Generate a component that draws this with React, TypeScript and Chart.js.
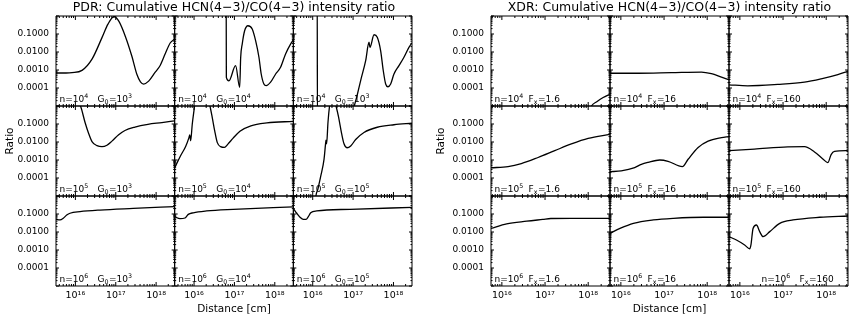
import React, { useEffect, useRef } from "react";
import { Chart, registerables } from "chart.js";
Chart.register(...registerables);

const FONT = '"DejaVu Sans", sans-serif';

const PDR_X_MIN = 3.31e15;
const PDR_X_MAX = 2.88e18;
const XDR_X_MIN = 5.6e15;
const XDR_X_MAX = 3.2e18;
const Y_MIN = 1e-5;
const Y_MAX = 1;
const yTickValues = [1e-4, 1e-3, 1e-2, 1e-1];
const yTickLabels = ["0.0001", "0.0010", "0.0100", "0.1000"];
const xTickValues = [1e16, 1e17, 1e18];
const xTickLabels = ["10¹⁶", "10¹⁷", "10¹⁸"];

const pdrTitle = "PDR: Cumulative HCN(4−3)/CO(4−3) intensity ratio";
const xdrTitle = "XDR: Cumulative HCN(4−3)/CO(4−3) intensity ratio";
const yTitle = "Ratio";
const xTitle = "Distance [cm]";

const densityExp = ["4", "5", "6"];
const pdrG0Exp = [["3", "4", "3"], ["3", "4", "5"], ["3", "4", "5"]];
const xdrFx = ["1.6", "16", "160"];

// ---------- PDR panels (row = density, col = G0) ----------
const p11x = [3.31e15, 5.86e15, 8.24e15, 1.46e16, 2.58e16, 4.56e16, 6.41e16, 9.04e16, 1.2e17, 1.74e17, 2.52e17, 3.35e17, 4.09e17, 4.91e17, 6.53e17, 9.51e17, 1.26e18, 1.68e18, 2.23e18, 2.87e18];
const p11y = [6.8e-4, 6.8e-4, 7.1e-4, 9.5e-4, 4.0e-3, 0.063, 0.355, 0.93, 0.5, 0.071, 5.6e-3, 5.6e-4, 2.2e-4, 1.66e-4, 2.4e-4, 7.6e-4, 1.78e-3, 7.9e-3, 0.0316, 0.052];

const p12x = [3.31e15, 6.24e16, 6.31e16, 7.31e16, 1.07e17, 1.35e17, 1.43e17, 1.56e17, 1.79e17, 2.16e17, 2.76e17, 3.35e17, 4.05e17, 4.61e17, 5.37e17, 6.12e17, 7.87e17, 1.05e18, 1.39e18, 1.85e18, 2.46e18, 2.86e18];
const p12y = [50, 50, 3.9e-4, 2.5e-4, 1.74e-3, 1.1e-4, 5.1e-3, 0.0275, 0.151, 0.288, 0.19, 0.0427, 5.1e-3, 6.0e-4, 1.66e-4, 1.35e-4, 2.1e-4, 6.0e-4, 1.41e-3, 7.8e-3, 0.0275, 0.045];

const p13x = [3.31e15, 1.29e16, 1.31e16, 9.12e16, 1.05e17, 1.25e17, 1.54e17, 2.05e17, 2.48e17, 2.62e17, 3.3e17, 3.97e17, 4.82e17, 5.6e17, 6.41e17, 7.31e17, 8.53e17, 1.03e18, 1.37e18, 1.82e18, 2.42e18, 2.87e18];
const p13y = [50, 50, 1e-6, 1e-6, 7.9e-6, 3.6e-5, 2.6e-4, 3.3e-3, 0.0347, 0.0182, 0.091, 0.066, 0.0117, 9.1e-4, 1.66e-4, 1.17e-4, 1.66e-4, 6.0e-4, 1.74e-3, 5.1e-3, 0.0182, 0.0316];

const p21x = [3.31e15, 1.16e16, 1.34e16, 1.73e16, 2.11e16, 2.58e16, 3.43e16, 4.56e16, 6.05e16, 8.05e16, 1.18e17, 1.69e17, 2.99e17, 6.27e17, 1.39e18, 2.87e18];
const p21y = [30, 1.58, 1.0, 0.126, 0.0316, 0.0105, 6.3e-3, 5.5e-3, 6.6e-3, 0.0112, 0.0251, 0.0437, 0.0676, 0.0955, 0.12, 0.151];

const p22x = [3.31e15, 4.67e15, 6.19e15, 7.48e15, 7.83e15, 8.24e15, 9.04e15, 9.95e15, 1.08e16, 2.28e16, 2.48e16, 2.82e16, 3.24e16, 3.75e16, 4.56e16, 5.66e16, 6.9e16, 9.18e16, 1.37e17, 2.56e17, 6.38e17, 2.86e18];
const p22y = [3.7e-4, 1.78e-3, 5.6e-3, 0.0174, 0.0251, 0.0117, 0.1, 0.55, 2.0, 2.0, 1.0, 0.234, 0.0427, 9.5e-3, 5.5e-3, 5.0e-3, 7.6e-3, 0.0158, 0.0398, 0.0794, 0.115, 0.141];

const p23x = [3.31e15, 1.05e16, 1.17e16, 1.35e16, 1.58e16, 1.91e16, 2.07e16, 2.13e16, 2.21e16, 2.39e16, 2.61e16, 2.76e16, 3.47e16, 3.78e16, 4.36e16, 5.22e16, 5.96e16, 7.06e16, 8.73e16, 1.16e17, 1.86e17, 3.97e17, 1.03e18, 2.88e18];
const p23y = [1e-7, 1e-7, 6.3e-6, 2.5e-5, 1.26e-4, 1.12e-3, 7.1e-3, 0.0126, 7.9e-3, 0.126, 1.0, 2.0, 2.0, 1.0, 0.251, 0.0282, 7.9e-3, 4.8e-3, 6.0e-3, 0.0138, 0.0339, 0.066, 0.091, 0.11];

const p31x = [3.31e15, 4.16e15, 5.01e15, 6.1e15, 7.36e15, 1.3e16, 4.06e16, 2.71e17, 2.87e18];
const p31y = [0.05, 0.047, 0.058, 0.087, 0.11, 0.135, 0.166, 0.204, 0.257];

const p32x = [3.31e15, 4.48e15, 5.96e15, 7.19e15, 9.55e15, 2.05e16, 9.33e16, 2.86e18];
const p32y = [0.071, 0.055, 0.06, 0.095, 0.117, 0.148, 0.182, 0.251];

const p33x = [3.31e15, 4.02e15, 4.85e15, 5.86e15, 6.82e15, 7.78e15, 8.93e15, 1.26e16, 8.38e16, 2.92e18];
const p33y = [0.204, 0.11, 0.066, 0.05, 0.05, 0.071, 0.117, 0.148, 0.182, 0.234];

// ---------- XDR panels (row = density, col = Fx) ----------
const x11x = [5.6e15, 1.06e18, 1.19e18, 1.61e18, 2.22e18, 3.16e18];
const x11y = [2.5e-6, 5e-6, 1e-5, 1.78e-5, 2.95e-5, 4.47e-5];

const x12x = [5.6e15, 2.5e16, 1.48e17, 7.35e17, 1.25e18, 2.14e18, 3.18e18];
const x12y = [6.6e-4, 6.6e-4, 7.1e-4, 7.6e-4, 6.2e-4, 4.0e-4, 2.9e-4];

const x13x = [5.6e15, 1.52e16, 7.55e16, 3.14e17, 7.64e17, 1.86e18, 3.18e18];
const x13y = [1.51e-4, 1.32e-4, 1.58e-4, 2.1e-4, 3.2e-4, 5.5e-4, 8.5e-4];

const x21x = [5.6e15, 1.39e16, 2.82e16, 6.9e16, 1.68e17, 4.08e17, 9.98e17, 3.18e18];
const x21y = [3.7e-4, 4.3e-4, 6.3e-4, 1.38e-3, 3.3e-3, 7.8e-3, 0.0158, 0.0263];

const x22x = [5.6e15, 1.02e16, 2.09e16, 2.98e16, 4.27e16, 7.96e16, 1.24e17, 2.66e17, 3.61e17, 6.17e17, 1.05e18, 2.14e18, 3.18e18];
const x22y = [2.24e-4, 2.5e-4, 3.8e-4, 5.75e-4, 7.4e-4, 1.0e-3, 8.5e-4, 4.3e-4, 1.1e-3, 5.0e-3, 0.0112, 0.0174, 0.02];

const x23x = [5.6e15, 2.17e16, 1.29e17, 3.14e17, 5.36e17, 8.36e17, 1.09e18, 1.3e18, 1.56e18, 3.18e18];
const x23y = [3.3e-3, 4.0e-3, 5.4e-3, 5.5e-3, 2.8e-3, 1.15e-3, 7.1e-4, 2.0e-3, 3.0e-3, 3.3e-3];

const x31x = [5.6e15, 1.29e16, 3.77e16, 8.87e16, 1.36e17, 4.02e17, 3.18e18];
const x31y = [0.0158, 0.0282, 0.0398, 0.0501, 0.0562, 0.0575, 0.0575];

const x32x = [5.6e15, 9.55e15, 1.95e16, 5.66e16, 1.65e17, 8.18e17, 3.18e18];
const x32y = [8.5e-3, 0.0158, 0.0302, 0.0468, 0.0575, 0.066, 0.066];

const x33x = [5.6e15, 8.32e15, 1.29e16, 1.69e16, 1.81e16, 2.02e16, 2.42e16, 2.88e16, 3.44e16, 4.92e16, 8.39e16, 1.71e17, 7.11e17, 3.18e18];
const x33y = [5.5e-3, 3.6e-3, 1.9e-3, 1.17e-3, 2.0e-3, 0.0158, 0.0245, 0.0105, 5.5e-3, 0.0105, 0.0302, 0.0468, 0.066, 0.0776];

const pdrPanels = [[p11x, p11y], [p12x, p12y], [p13x, p13y], [p21x, p21y], [p22x, p22y], [p23x, p23y], [p31x, p31y], [p32x, p32y], [p33x, p33y]];
const xdrPanels = [[x11x, x11y], [x12x, x12y], [x13x, x13y], [x21x, x21y], [x22x, x22y], [x23x, x23y], [x31x, x31y], [x32x, x32y], [x33x, x33y]];

type Part = { t: string; k?: "sup" | "sub" };
type Label = { a: Part[]; b: Part[]; offA: number; offB: number };

function pdrLabel(r: number, c: number): Label {
  return {
    a: [{ t: "n=10" }, { t: densityExp[r], k: "sup" }],
    b: [{ t: "G" }, { t: "0", k: "sub" }, { t: "=10" }, { t: pdrG0Exp[r][c], k: "sup" }],
    offA: 3.5,
    offB: 41.5,
  };
}
function xdrLabel(r: number, c: number): Label {
  const special = r === 2 && c === 2;
  return {
    a: [{ t: "n=10" }, { t: densityExp[r], k: "sup" }],
    b: [{ t: "F" }, { t: "x", k: "sub" }, { t: "=" + xdrFx[c] }],
    offA: special ? 32.5 : 3.5,
    offB: special ? 70.5 : 37.5,
  };
}

function drawRich(ctx: CanvasRenderingContext2D, x: number, y: number, parts: Part[]) {
  let cx = x;
  ctx.textBaseline = "alphabetic";
  ctx.textAlign = "left";
  for (const p of parts) {
    const small = p.k === "sup" || p.k === "sub";
    ctx.font = `${small ? 6.3 : 9}px ${FONT}`;
    const dy = p.k === "sup" ? -3.8 : p.k === "sub" ? 2 : 0;
    ctx.fillText(p.t, cx, y + dy);
    cx += ctx.measureText(p.t).width + (small ? 0.6 : 0);
  }
}

function makePanelPlugin(labelFor: (r: number, c: number) => Label, ratioX: number) {
  return {
    id: "panelFrames",
    afterDatasetsDraw(chart: any) {
      const ctx: CanvasRenderingContext2D = chart.ctx;
      ctx.save();
      ctx.strokeStyle = "#000";
      ctx.fillStyle = "#000";
      ctx.lineWidth = 1;
      for (let r = 0; r < 3; r++) {
        for (let c = 0; c < 3; c++) {
          const xs = chart.scales["x" + (c + 1)];
          const ys = chart.scales["y" + (r + 1)];
          const L = xs.left, R = xs.right, T = ys.top, B = ys.bottom;
          ctx.beginPath();
          ctx.rect(L, T, R - L, B - T);
          for (let e = -5; e <= 0; e++) {
            for (let m = 1; m < 10; m++) {
              const v = m * Math.pow(10, e);
              if (v > Y_MAX * 1.001) continue;
              const py = ys.getPixelForValue(v);
              const len = m === 1 ? 3 : 1.5;
              ctx.moveTo(L, py); ctx.lineTo(L + len, py);
              ctx.moveTo(R, py); ctx.lineTo(R - len, py);
            }
          }
          for (let e = 15; e <= 18; e++) {
            for (let m = 1; m < 10; m++) {
              const v = m * Math.pow(10, e);
              if (v < xs.min || v > xs.max) continue;
              const px = xs.getPixelForValue(v);
              const len = m === 1 ? 4 : 2;
              ctx.moveTo(px, T); ctx.lineTo(px, T + len);
              ctx.moveTo(px, B); ctx.lineTo(px, B - len);
            }
          }
          ctx.stroke();
          const lab = labelFor(r, c);
          drawRich(ctx, L + lab.offA, B - 4.5, lab.a);
          drawRich(ctx, L + lab.offB, B - 4.5, lab.b);
        }
      }
      // y-axis title beside the middle row
      const ymid = chart.scales.y2;
      ctx.translate(ratioX, (ymid.top + ymid.bottom) / 2 - 10);
      ctx.rotate(-Math.PI / 2);
      ctx.font = `10.5px ${FONT}`;
      ctx.textAlign = "center";
      ctx.textBaseline = "middle";
      ctx.fillText(yTitle, 0, 0);
      ctx.restore();
    },
  };
}

type GroupProps = {
  left: number;
  width: number;
  axisW: number;
  padR: number;
  ratioX: number;
  xMin: number;
  xMax: number;
  title: string;
  panels: number[][][];
  labelFor: (r: number, c: number) => Label;
};

function GroupChart(props: GroupProps) {
  const ref = useRef<HTMLCanvasElement>(null);
  useEffect(() => {
    const canvas = ref.current!;
    const { axisW, padR, ratioX, xMin, xMax, title, panels, labelFor } = props;
    const scales: any = {};
    for (let c = 0; c < 3; c++) {
      scales["x" + (c + 1)] = {
        type: "logarithmic",
        position: "bottom",
        stack: "xs",
        stackWeight: 1,
        weight: c + 1,
        min: xMin,
        max: xMax,
        grid: { display: false, drawTicks: false },
        border: { display: false },
        afterBuildTicks: (s: any) => { s.ticks = xTickValues.map((v) => ({ value: v })); },
        afterFit: (s: any) => { s.height = 30; s.paddingLeft = 0; s.paddingRight = 0; },
        ticks: {
          autoSkip: false, maxRotation: 0, minRotation: 0, padding: 4, color: "#000",
          font: { family: FONT, size: 9.5 },
          callback: (_v: any, i: number) => xTickLabels[i],
        },
        title: c === 1
          ? { display: true, text: xTitle, color: "#000", font: { family: FONT, size: 10.5 }, padding: { top: 0, bottom: 0 } }
          : { display: false },
      };
    }
    for (let r = 0; r < 3; r++) {
      scales["y" + (r + 1)] = {
        type: "logarithmic",
        position: "left",
        stack: "ys",
        stackWeight: 1,
        weight: 3 - r,
        min: Y_MIN,
        max: Y_MAX,
        grid: { display: false, drawTicks: false },
        border: { display: false },
        afterBuildTicks: (s: any) => { s.ticks = yTickValues.map((v) => ({ value: v })); },
        afterFit: (s: any) => { s.width = axisW; s.paddingTop = 0; s.paddingBottom = 0; },
        ticks: {
          autoSkip: false, padding: 7, color: "#000",
          font: { family: FONT, size: 9 },
          callback: (_v: any, i: number) => yTickLabels[i],
        },
        title: { display: false },
      };
    }
    const datasets = panels.map(([xs, ys], i) => ({
      data: xs.map((x, j) => ({ x, y: ys[j] })),
      xAxisID: "x" + ((i % 3) + 1),
      yAxisID: "y" + (Math.floor(i / 3) + 1),
      borderColor: "#000",
      borderWidth: 1.3,
      pointRadius: 0,
      fill: false,
      cubicInterpolationMode: "monotone",
      clip: 0,
    }));
    const chart = new Chart(canvas, {
      type: "line",
      data: { datasets } as any,
      options: {
        responsive: false,
        animation: false,
        devicePixelRatio: 1,
        events: [],
        layout: { padding: { left: 0, right: padR, top: 0, bottom: 0 } },
        scales,
        plugins: {
          legend: { display: false },
          tooltip: { enabled: false },
          title: {
            display: true,
            text: title,
            fullSize: false,
            color: "#000",
            font: { family: FONT, size: 12.5, weight: "normal", lineHeight: 1.28 },
            padding: { top: 0, bottom: 0 },
          },
        },
      } as any,
      plugins: [makePanelPlugin(labelFor, ratioX)],
    });
    return () => chart.destroy();
  }, []);
  return (
    <canvas
      ref={ref}
      width={props.width}
      height={316}
      style={{ position: "absolute", left: props.left, top: 0, width: props.width, height: 316 }}
    />
  );
}

export default function App() {
  return (
    <div style={{ position: "absolute", left: 0, top: 0, width: 849, height: 316, background: "#fff", overflow: "hidden" }}>
      <GroupChart left={0} width={420} axisW={56} padR={8} ratioX={10.5} xMin={PDR_X_MIN} xMax={PDR_X_MAX} title={pdrTitle} panels={pdrPanels} labelFor={pdrLabel} />
      <GroupChart left={424} width={425} axisW={67} padR={1} ratioX={17} xMin={XDR_X_MIN} xMax={XDR_X_MAX} title={xdrTitle} panels={xdrPanels} labelFor={xdrLabel} />
    </div>
  );
}
